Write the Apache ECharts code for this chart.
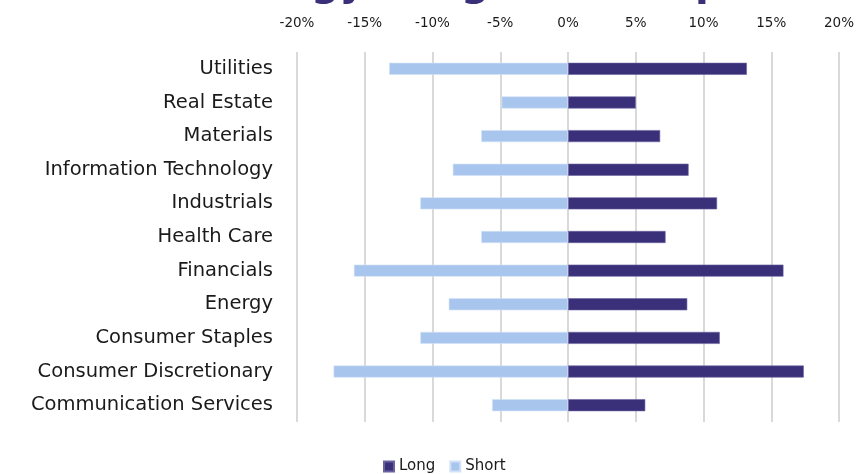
<!DOCTYPE html>
<html>
<head>
<meta charset="utf-8">
<script src="https://cdn.jsdelivr.net/npm/echarts@6/dist/echarts.min.js"></script>
<style>
  html, body { margin: 0; padding: 0; background: #ffffff; }
  #chart { width: 859px; height: 474px; }
</style>
</head>
<body>
<div id="chart"></div>
<script>
// Sectors, bottom to top as the category axis stacks them
const sectors = [
  'Communication Services',
  'Consumer Discretionary',
  'Consumer Staples',
  'Energy',
  'Financials',
  'Health Care',
  'Industrials',
  'Information Technology',
  'Materials',
  'Real Estate',
  'Utilities'
];

// Exposure in percent of capital
const longExposure  = [5.7, 17.4, 11.2, 8.8, 15.9, 7.2, 11.0, 8.9, 6.8, 5.0, 13.2];
const shortExposure = [-5.6, -17.3, -10.9, -8.8, -15.8, -6.4, -10.9, -8.5, -6.4, -4.9, -13.2];

const axisTicks = [-20, -15, -10, -5, 0, 5, 10, 15, 20];
const titleText = 'Strategy Long/Short Exposure';

const LONG_COLOR = '#3a3079';
const SHORT_COLOR = '#a8c5ee';
const FONT = '"DejaVu Sans", "Open Sans", sans-serif';

const chart = echarts.init(document.getElementById('chart'), null, { renderer: 'canvas' });

chart.setOption({
  animation: false,
  backgroundColor: '#ffffff',
  title: {
    text: titleText,
    left: 165,
    top: -40,
    textStyle: { fontFamily: FONT, fontSize: 40, fontWeight: 'bold', color: LONG_COLOR }
  },
  legend: {
    bottom: -5,
    left: 378,
    icon: 'rect',
    itemWidth: 10,
    itemHeight: 10,
    itemGap: 14,
    data: ['Long', 'Short'],
    textStyle: { fontFamily: FONT, fontSize: 15, color: '#1a1a1a' }
  },
  grid: { left: 297, right: 20, top: 52, bottom: 52, containLabel: false },
  xAxis: {
    type: 'value',
    position: 'top',
    min: axisTicks[0],
    max: axisTicks[axisTicks.length - 1],
    interval: 5,
    axisLine: { show: false },
    axisTick: { show: false },
    axisLabel: {
      formatter: v => v + '%',
      fontFamily: FONT,
      fontSize: 13.5,
      color: '#1a1a1a',
      margin: 22
    },
    splitLine: { lineStyle: { color: '#d9d9d9', width: 2 } }
  },
  yAxis: {
    type: 'category',
    data: sectors,
    axisLine: { show: false },
    axisTick: { show: false },
    axisLabel: { fontFamily: FONT, fontSize: 19.5, color: '#1a1a1a', margin: 24 }
  },
  series: [
    {
      name: 'Long',
      type: 'bar',
      stack: 'exposure',
      data: longExposure,
      barWidth: 12,
      itemStyle: { color: LONG_COLOR, borderColor: '#6a62a0', borderWidth: 0.6 }
    },
    {
      name: 'Short',
      type: 'bar',
      stack: 'exposure',
      data: shortExposure,
      barWidth: 12,
      itemStyle: { color: SHORT_COLOR, borderColor: '#d3e2f7', borderWidth: 0.6 }
    }
  ]
});
</script>
</body>
</html>
